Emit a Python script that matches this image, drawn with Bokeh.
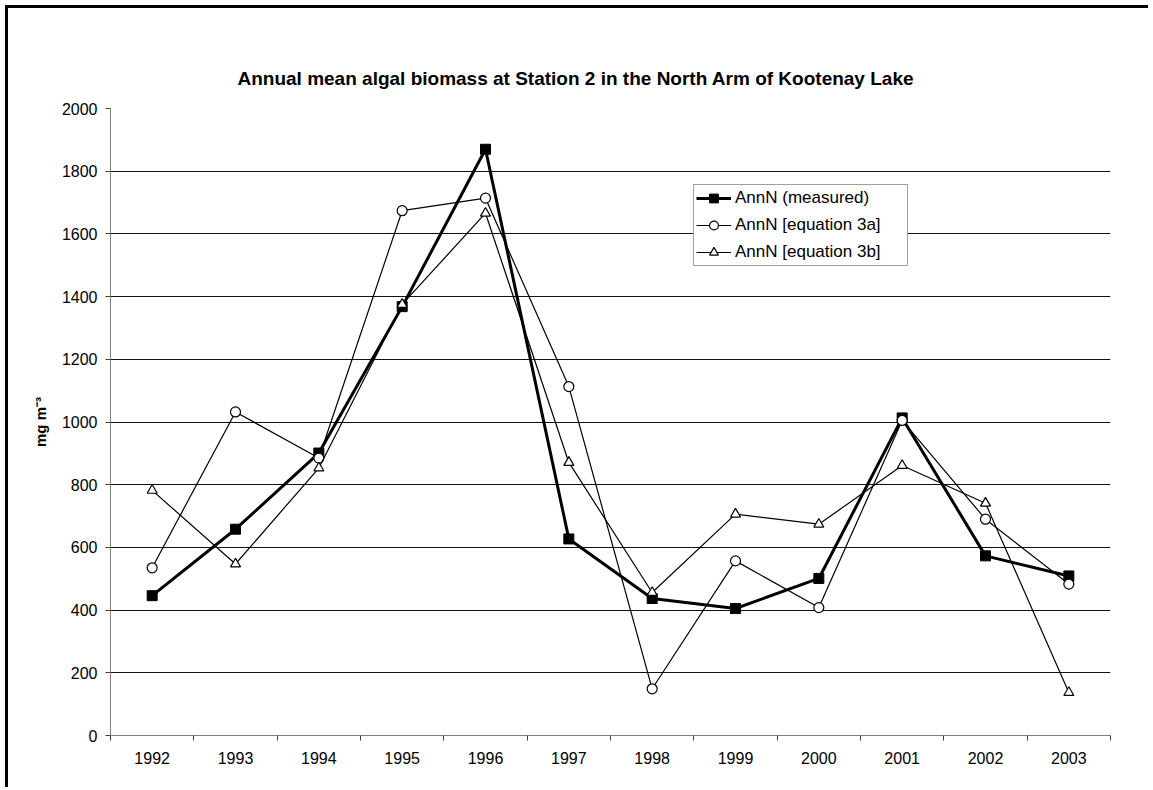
from bokeh.plotting import figure
from bokeh.models import FixedTicker, Legend, LegendItem, Range1d
from bokeh.embed import file_html
from bokeh.resources import INLINE

years = ["1992", "1993", "1994", "1995", "1996", "1997", "1998", "1999", "2000", "2001", "2002", "2003"]
measured = [446, 658, 901, 1368, 1870, 627, 437, 405, 501, 1013, 573, 509]
eq3a = [535, 1032, 885, 1674, 1714, 1113, 149, 557, 408, 1005, 690, 483]
eq3b = [782, 547, 853, 1375, 1666, 871, 456, 706, 674, 861, 741, 137]
y_ticks = list(range(0, 2001, 200))

FONT = "Liberation Sans"
xs = [i + 0.5 for i in range(len(years))]

p = figure(width=1143, height=782, output_backend="svg", toolbar_location=None,
           x_range=Range1d(0, len(years)), y_range=Range1d(0, 2000),
           min_border_left=102, min_border_right=41, min_border_top=100, min_border_bottom=55)
p.styles = {"border-left": "3px solid black", "border-top": "3px solid black",
            "margin-left": "5px", "margin-top": "5px"}

p.title.text = "Annual mean algal biomass at Station 2 in the North Arm of Kootenay Lake"
p.title.align = "left"
p.title.text_font = FONT
p.title.text_font_size = "19px"
p.title.text_font_style = "bold"
p.title.text_color = "black"
p.title.offset = 127
p.title.standoff = 39

p.outline_line_color = None
p.background_fill_color = "white"
p.border_fill_color = "white"

# x axis
p.xaxis.ticker = FixedTicker(ticks=xs, minor_ticks=list(range(len(years) + 1)))
p.xaxis.major_label_overrides = {x: y for x, y in zip(xs, years)}
p.xaxis.major_tick_out = 0
p.xaxis.major_tick_in = 0
p.xaxis.minor_tick_out = 5
p.xaxis.minor_tick_in = 0
p.xaxis.minor_tick_line_color = "#404040"
p.xaxis.axis_line_color = "#808080"
p.xaxis.major_label_text_font = FONT
p.xaxis.major_label_text_font_size = "16px"
p.xaxis.major_label_text_color = "black"
p.xaxis.major_label_standoff = 11

# y axis
p.yaxis.ticker = FixedTicker(ticks=y_ticks, minor_ticks=[])
p.yaxis.major_tick_out = 5
p.yaxis.major_tick_in = 0
p.yaxis.major_tick_line_color = "#404040"
p.yaxis.axis_line_color = "#808080"
p.yaxis.major_label_text_font = FONT
p.yaxis.major_label_text_font_size = "16px"
p.yaxis.major_label_text_color = "black"
p.yaxis.major_label_standoff = 8
p.yaxis.axis_label = "mg m\u207b\u00b3"
p.yaxis.axis_label_text_font = FONT
p.yaxis.axis_label_text_font_size = "15px"
p.yaxis.axis_label_text_font_style = "bold"
p.yaxis.axis_label_text_color = "black"
p.yaxis.axis_label_standoff = 10

p.xgrid.grid_line_color = None
p.ygrid.grid_line_color = "#111111"
p.ygrid.grid_line_width = 1

l1 = p.line(xs, measured, line_color="black", line_width=3)
m1 = p.scatter(xs, measured, marker="square", size=10, fill_color="black", line_color="black")
l2 = p.line(xs, eq3a, line_color="black", line_width=1.2)
m2 = p.scatter(xs, eq3a, marker="circle", size=10, fill_color="white", line_color="black", line_width=1.2)
l3 = p.line(xs, eq3b, line_color="black", line_width=1.2)
m3 = p.scatter(xs, eq3b, marker="triangle", size=10, fill_color="white", line_color="black", line_width=1.2)

legend = Legend(items=[
    LegendItem(label="AnnN (measured)", renderers=[l1, m1]),
    LegendItem(label="AnnN [equation 3a]", renderers=[l2, m2]),
    LegendItem(label="AnnN [equation 3b]", renderers=[l3, m3]),
])
legend.location = (583, 469)
legend.label_text_font = FONT
legend.label_text_font_size = "17px"
legend.label_text_color = "black"
legend.glyph_width = 35
legend.glyph_height = 22
legend.label_height = 22
legend.label_width = 170
legend.spacing = 5
legend.padding = 2
legend.margin = 0
legend.label_standoff = 4
legend.border_line_color = "#404040"
legend.border_line_width = 1
legend.background_fill_alpha = 1
p.add_layout(legend, "center")

open("out.html", "w").write(file_html(p, INLINE))
